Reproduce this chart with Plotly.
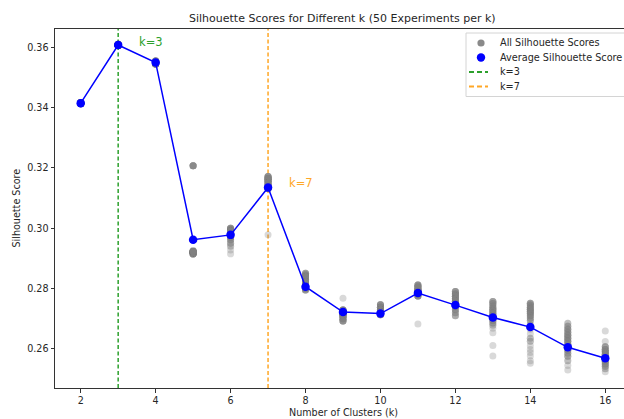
import plotly.graph_objects as go

# Number of clusters tested
k_values = [2, 3, 4, 5, 6, 7, 8, 9, 10, 11, 12, 13, 14, 15, 16]

# Mean silhouette score per k
avg_scores = [0.3415, 0.3608, 0.3550, 0.2962, 0.2978, 0.3135, 0.2806, 0.2722,
              0.2717, 0.2785, 0.2745, 0.2704, 0.2672, 0.2605, 0.2569]

# Individual run scores per k, as (score, number of runs) pairs; 50 runs each
runs_k2 = [(0.3413, 10), (0.3415, 25), (0.3417, 15)]
runs_k3 = [(0.3606, 15), (0.3608, 25), (0.3610, 10)]
runs_k4 = [(0.3545, 15), (0.3550, 25), (0.3555, 10)]
runs_k5 = [(0.2915, 10), (0.2919, 15), (0.2923, 16), (0.2926, 2), (0.3207, 7)]
runs_k6 = [(0.3000, 6), (0.2995, 8), (0.2990, 8), (0.2985, 7), (0.2978, 5),
           (0.2970, 5), (0.2962, 4), (0.2950, 3), (0.2940, 2), (0.2928, 1),
           (0.2915, 1)]
runs_k7 = [(0.3172, 6), (0.3165, 10), (0.3158, 10), (0.3150, 8), (0.3142, 7),
           (0.3132, 8), (0.2978, 1)]
runs_k8 = [(0.2851, 4), (0.2845, 6), (0.2838, 6), (0.2830, 6), (0.2822, 6),
           (0.2815, 6), (0.2808, 6), (0.2800, 5), (0.2795, 5)]
runs_k9 = [(0.2768, 1), (0.2729, 8), (0.2722, 10), (0.2715, 10), (0.2708, 8),
           (0.2700, 7), (0.2692, 6)]
runs_k10 = [(0.2746, 6), (0.2738, 8), (0.2730, 10), (0.2722, 10), (0.2716, 10),
            (0.2713, 6)]
runs_k11 = [(0.2812, 6), (0.2805, 8), (0.2797, 10), (0.2790, 10), (0.2782, 8),
            (0.2775, 7), (0.2682, 1)]
runs_k12 = [(0.2790, 5), (0.2782, 6), (0.2774, 6), (0.2766, 6), (0.2758, 6),
            (0.2750, 6), (0.2740, 5), (0.2730, 4), (0.2720, 3), (0.2710, 3)]
runs_k13 = [(0.2757, 4), (0.2750, 4), (0.2742, 4), (0.2734, 5), (0.2726, 5),
            (0.2718, 5), (0.2710, 5), (0.2702, 5), (0.2694, 4), (0.2686, 3),
            (0.2678, 2), (0.2668, 1), (0.2653, 1), (0.2611, 1), (0.2576, 1)]
runs_k14 = [(0.2751, 4), (0.2745, 4), (0.2738, 4), (0.2731, 5), (0.2724, 5),
            (0.2717, 4), (0.2710, 4), (0.2702, 3), (0.2694, 3), (0.2680, 2),
            (0.2665, 1), (0.2650, 1), (0.2635, 2), (0.2625, 2), (0.2610, 1),
            (0.2598, 1), (0.2588, 1), (0.2576, 1), (0.2560, 1), (0.2552, 1)]
runs_k15 = [(0.2685, 2), (0.2675, 3), (0.2665, 4), (0.2655, 4), (0.2645, 5),
            (0.2635, 5), (0.2625, 5), (0.2615, 4), (0.2605, 4), (0.2595, 4),
            (0.2585, 3), (0.2575, 3), (0.2560, 2), (0.2545, 1), (0.2530, 1)]
runs_k16 = [(0.2659, 1), (0.2624, 1), (0.2607, 4), (0.2598, 5), (0.2590, 6),
            (0.2582, 6), (0.2574, 6), (0.2566, 6), (0.2558, 5), (0.2550, 4),
            (0.2542, 3), (0.2534, 2), (0.2524, 1)]

all_runs = [runs_k2, runs_k3, runs_k4, runs_k5, runs_k6, runs_k7, runs_k8,
            runs_k9, runs_k10, runs_k11, runs_k12, runs_k13, runs_k14,
            runs_k15, runs_k16]

# Highlighted cluster counts
highlight_k = [3, 7]
highlight_labels = ["k=3", "k=7"]
highlight_label_y = [0.3617, 0.3150]
highlight_colors = ["#2ca02c", "#ffa726"]

x_ticks = [2, 4, 6, 8, 10, 12, 14, 16]
y_ticks = [0.26, 0.28, 0.30, 0.32, 0.34, 0.36]

FONT = "DejaVu Sans"
TEXT = "#262626"
W, H = 624, 419
M_L, M_R, M_T, M_B = 55, 0, 29, 31
PW, PH = W - M_L - M_R, H - M_T - M_B


def px_x(p):
    return (p - M_L) / PW


def px_y(p):
    return (H - M_B - p) / PH


run_x, run_y = [], []
for k, runs in zip(k_values, all_runs):
    for score, n in runs:
        run_x += [k] * n
        run_y += [score] * n

fig = go.Figure()

fig.add_trace(go.Scatter(
    x=run_x, y=run_y, mode="markers", name="All Silhouette Scores",
    marker=dict(size=7, color="rgba(128,128,128,0.3)", line=dict(width=0)),
    showlegend=False, hoverinfo="x+y"))

fig.add_trace(go.Scatter(
    x=k_values, y=avg_scores, mode="lines", line=dict(color="#0000ff", width=1.5),
    showlegend=False, hoverinfo="skip"))

fig.add_trace(go.Scatter(
    x=k_values, y=avg_scores, mode="markers", name="Average Silhouette Score",
    marker=dict(size=8.5, color="#0000ff", line=dict(width=0)),
    showlegend=False))

shapes = []
annotations = []

for k, lab, ly, col in zip(highlight_k, highlight_labels, highlight_label_y, highlight_colors):
    shapes.append(dict(type="line", xref="x", yref="paper", x0=k, x1=k, y0=0, y1=1,
                       line=dict(color=col, width=1.5, dash="4px,2.5px"), layer="below"))
    annotations.append(dict(x=k + 0.5, y=ly, xref="x", yref="y", text=lab,
                            showarrow=False, xanchor="left", yanchor="middle",
                            font=dict(family=FONT, size=11.5, color=col)))

# Legend box, drawn by hand so it can run off the right edge
shapes.append(dict(type="rect", xref="paper", yref="paper",
                   x0=px_x(466), x1=px_x(660), y0=px_y(96.5), y1=px_y(33),
                   line=dict(color="#d4d4d4", width=1), fillcolor="rgba(255,255,255,0.8)",
                   layer="above"))

legend_rows = [43, 57.5, 72, 86.5]
legend_texts = ["All Silhouette Scores", "Average Silhouette Score"] + highlight_labels

# marker samples
for cy, r, col in [(legend_rows[0], 3.6, "#8a8a8a"), (legend_rows[1], 4.2, "#0000ff")]:
    shapes.append(dict(type="circle", xref="paper", yref="paper",
                       x0=px_x(481 - r), x1=px_x(481 + r), y0=px_y(cy + r), y1=px_y(cy - r),
                       fillcolor=col, line=dict(width=0), layer="above"))
# dashed line samples
for cy, col in zip(legend_rows[2:], highlight_colors):
    shapes.append(dict(type="line", xref="paper", yref="paper",
                       x0=px_x(469), x1=px_x(488), y0=px_y(cy), y1=px_y(cy),
                       line=dict(color=col, width=1.8, dash="5px,3px"), layer="above"))

for cy, txt in zip(legend_rows, legend_texts):
    annotations.append(dict(x=px_x(497.5), y=px_y(cy), xref="paper", yref="paper",
                            text=txt, showarrow=False, xanchor="left", yanchor="middle",
                            font=dict(family=FONT, size=9.7, color=TEXT)))

# Title and axis labels
annotations.append(dict(x=px_x(342), y=px_y(19), xref="paper", yref="paper",
                        text="Silhouette Scores for Different k (50 Experiments per k)",
                        showarrow=False, xanchor="center", yanchor="middle",
                        font=dict(family=FONT, size=11.0, color=TEXT)))
annotations.append(dict(x=px_x(343), y=px_y(412), xref="paper", yref="paper",
                        text="Number of Clusters (k)", showarrow=False,
                        xanchor="center", yanchor="middle",
                        font=dict(family=FONT, size=9.6, color=TEXT)))
annotations.append(dict(x=px_x(16), y=px_y(208.5), xref="paper", yref="paper",
                        text="Silhouette Score", showarrow=False, textangle=-90,
                        xanchor="center", yanchor="middle",
                        font=dict(family=FONT, size=9.6, color=TEXT)))

axis_common = dict(showgrid=False, zeroline=False, showline=True, linecolor="#333333",
                   linewidth=1, ticks="outside", ticklen=3.5, tickwidth=1,
                   tickcolor="#333333", tickfont=dict(family=FONT, size=9.6, color=TEXT))

fig.update_layout(
    width=W, height=H,
    margin=dict(l=M_L, r=M_R, t=M_T, b=M_B, pad=0, autoexpand=False),
    paper_bgcolor="white", plot_bgcolor="white",
    showlegend=False,
    xaxis=dict(range=[1.314, 16.5], tickvals=x_ticks, ticktext=[str(v) for v in x_ticks],
               mirror=True, **axis_common),
    yaxis=dict(range=[0.2470, 0.3661], tickvals=y_ticks,
               ticktext=[f"{v:.2f}" for v in y_ticks], mirror=False, **axis_common),
    shapes=shapes,
    annotations=annotations,
)

fig.write_html("out.html")
